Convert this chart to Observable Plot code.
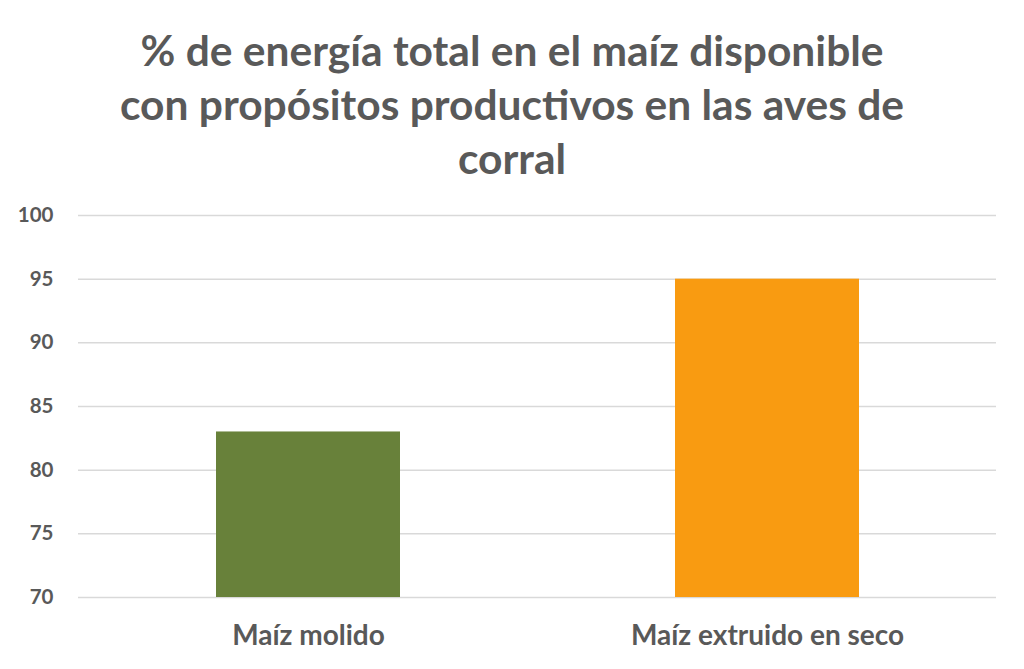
<!DOCTYPE html>
<html>
<head>
<meta charset="utf-8">
<script src="https://cdn.jsdelivr.net/npm/d3@7"></script>
<script src="https://cdn.jsdelivr.net/npm/@observablehq/plot@0.6"></script>
<style>
  html, body { margin: 0; padding: 0; background: #fff; }
  #title {
    width: 1024px; height: 185px; box-sizing: border-box; padding-top: 23px;
    text-align: center; font-family: Lato, "Open Sans", sans-serif; font-weight: bold;
    font-size: 42.5px; line-height: 54px; color: #595959;
  }
</style>
</head>
<body>
<div id="title">% de energía total en el maíz disponible<br>con propósitos productivos en las aves de<br>corral</div>
<div id="chart"></div>
<script>
const categories = ["Maíz molido", "Maíz extruido en seco"];
const values = [83, 95];
const colors = ["#68813A", "#F99B11"];
const yTicks = [70, 75, 80, 85, 90, 95, 100];

const data = categories.map((c, i) => ({category: c, value: values[i], color: colors[i]}));

const plot = Plot.plot({
  width: 1024,
  height: 484,
  marginLeft: 78,
  marginRight: 28,
  marginTop: 30,
  marginBottom: 72,
  style: {fontFamily: "Lato, 'Open Sans', sans-serif", fontWeight: "bold", color: "#595959", background: "#fff"},
  x: {domain: categories, paddingInner: 0.6, paddingOuter: 0.3, label: null},
  y: {domain: [70, 100], label: null},
  marks: [
    Plot.ruleY(yTicks, {stroke: "#d9d9d9", strokeWidth: 1.5}),
    Plot.barY(data, {x: "category", y1: 70, y2: "value", fill: "color"}),
    Plot.axisY({ticks: yTicks, tickSize: 0, tickPadding: 25, fontSize: 20.5, label: null}),
    Plot.axisX({tickSize: 0, tickPadding: 28, fontSize: 28, label: null})
  ]
});
document.getElementById("chart").appendChild(plot);
</script>
</body>
</html>
